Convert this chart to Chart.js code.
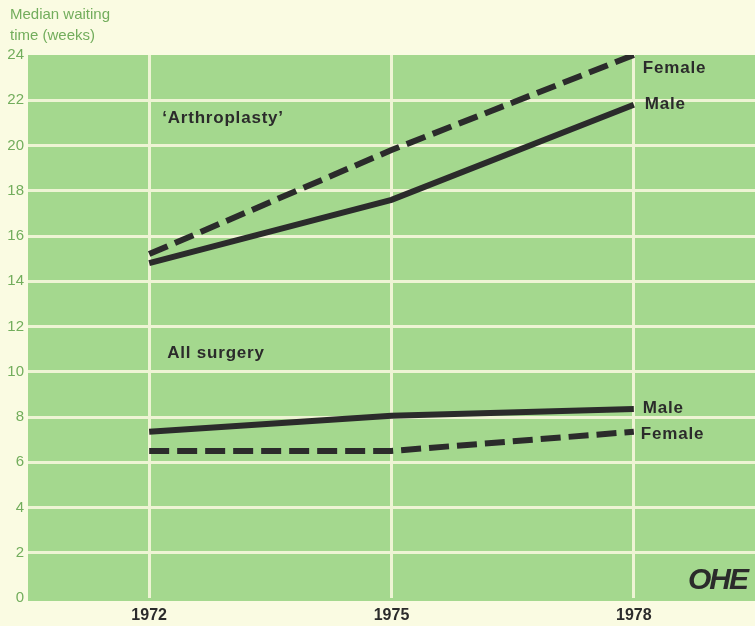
<!DOCTYPE html>
<html>
<head>
<meta charset="utf-8">
<script src="https://cdn.jsdelivr.net/npm/chart.js@4.4.1/dist/chart.umd.min.js"></script>
<style>
  html, body { margin: 0; padding: 0; background: #fafbe2; }
  canvas { display: block; }
</style>
</head>
<body>
<canvas id="chart" width="755" height="626"></canvas>
<script>
const years = ['1972', '1975', '1978']
const arthroFemale = [15.2, 19.8, 24.0]
const arthroMale = [14.8, 17.6, 21.8]
const surgeryMale = [7.35, 8.05, 8.35]
const surgeryFemale = [6.5, 6.5, 7.35]
const yTicks = [0, 2, 4, 6, 8, 10, 12, 14, 16, 18, 20, 22, 24]
const axisTitle = ['Median waiting', 'time (weeks)']

const ink = '#2b2b2b'
const greenText = '#72ad5c'

const plotBg = {
    id: 'plotBg',
    beforeDraw(chart) {
        const { ctx, chartArea: a } = chart
        ctx.save()
        ctx.fillStyle = '#fafbe2'
        ctx.fillRect(0, 0, chart.width, chart.height)
        ctx.fillStyle = '#a4d88e'
        ctx.fillRect(a.left, a.top, a.right - a.left, a.bottom - a.top + 3)
        ctx.restore()
    }
}

const labels = {
    id: 'labels',
    afterDraw(chart) {
        const { ctx } = chart
        const x = chart.scales.x, y = chart.scales.y
        ctx.save()
        // axis title, top left
        ctx.fillStyle = greenText
        ctx.textBaseline = 'middle'
        ctx.textAlign = 'left'
        ctx.font = '15px "Liberation Sans", Arial, sans-serif'
        axisTitle.forEach((line, i) => ctx.fillText(line, 10, 15 + i * 21))
    },
    afterDatasetsDraw(chart) {
        const { ctx } = chart
        const x = chart.scales.x, y = chart.scales.y
        ctx.save()
        ctx.fillStyle = ink
        ctx.textBaseline = 'middle'
        ctx.textAlign = 'left'
        ctx.font = 'bold 17px "Liberation Sans", Arial, sans-serif'
        ctx.letterSpacing = '0.8px'
        const endX = x.getPixelForValue(2) + 9
        ctx.fillText('Female', endX, y.getPixelForValue(arthroFemale[2]) + 13)
        ctx.fillText('Male', endX + 2, y.getPixelForValue(arthroMale[2]))
        ctx.fillText('Male', endX, y.getPixelForValue(surgeryMale[2]) - 1)
        ctx.fillText('Female', endX - 2, y.getPixelForValue(surgeryFemale[2]) + 3)
        ctx.fillText('\u2018Arthroplasty\u2019', x.getPixelForValue(0) + 13, y.getPixelForValue(21.2))
        ctx.fillText('All surgery', x.getPixelForValue(0) + 18, y.getPixelForValue(10.8))

        ctx.font = 'italic bold 30px "Liberation Sans", Arial, sans-serif'
        ctx.letterSpacing = '-2px'
        ctx.textAlign = 'right'
        ctx.fillText('OHE', chart.chartArea.right - 8, y.getPixelForValue(0.75))
        ctx.restore()
    }
}

const lineStyle = (data, dashed) => ({
    data: data,
    borderColor: ink,
    borderWidth: 6,
    borderDash: dashed ? [20, 8] : [],
    borderCapStyle: 'butt',
    pointRadius: 0,
    tension: 0,
    fill: false
})

new Chart(document.getElementById('chart'), {
    type: 'line',
    data: {
        labels: years,
        datasets: [
            lineStyle(arthroFemale, true),
            lineStyle(arthroMale, false),
            lineStyle(surgeryMale, false),
            lineStyle(surgeryFemale, true)
        ]
    },
    options: {
        responsive: false,
        animation: false,
        layout: { padding: { left: 0, right: 0, top: 55, bottom: 0 } },
        plugins: {
            legend: { display: false },
            tooltip: { enabled: false },
            title: { display: false }
        },
        scales: {
            x: {
                offset: true,
                grid: { offset: false, color: '#eef4d4', lineWidth: 3, drawTicks: false },
                border: { display: false },
                ticks: {
                    color: ink,
                    padding: 8,
                    font: { family: '"Liberation Sans", Arial, sans-serif', size: 16, weight: 'bold' }
                },
                afterFit(s) { s.height = 28 }
            },
            y: {
                min: 0,
                max: 24,
                afterBuildTicks(s) { s.ticks = yTicks.map(v => ({ value: v })) },
                grid: {
                    color: ctx => (ctx.tick && (ctx.tick.value === 0 || ctx.tick.value === 24)) ? 'rgba(0,0,0,0)' : '#eef4d4',
                    lineWidth: 3,
                    drawTicks: false
                },
                border: { display: false },
                ticks: {
                    color: greenText,
                    padding: 4,
                    font: { family: '"Liberation Sans", Arial, sans-serif', size: 15 }
                },
                afterFit(s) { s.width = 28 }
            }
        }
    },
    plugins: [plotBg, labels]
})
</script>
</body>
</html>
